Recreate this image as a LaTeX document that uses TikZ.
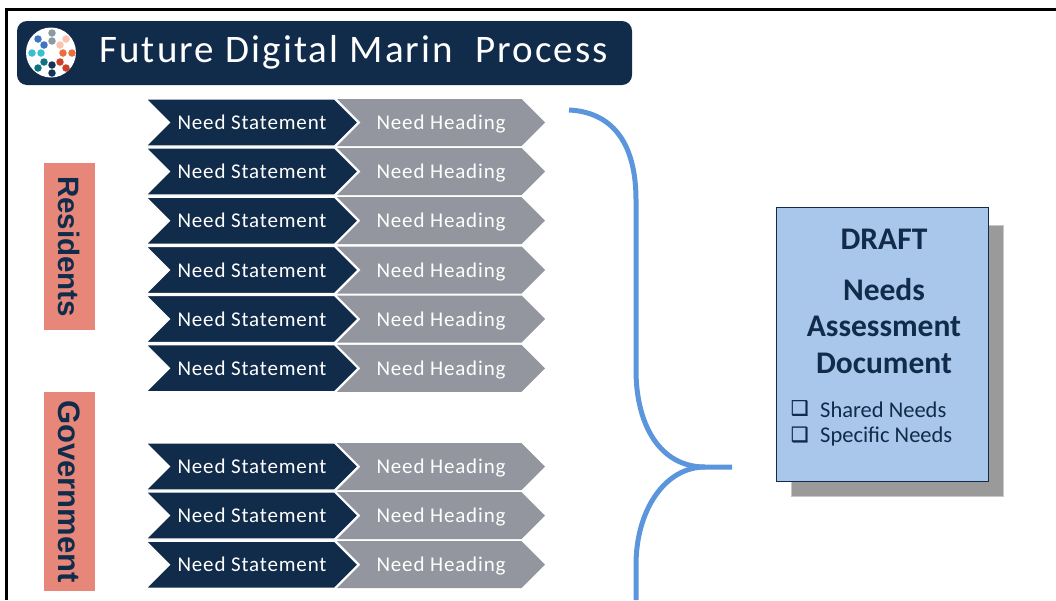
\documentclass[tikz,border=0pt]{standalone}
\usepackage{fontspec}
\setmainfont{Carlito}
\newfontfamily\chevfont[LetterSpace=4]{Carlito}
\newfontfamily\titlefont[LetterSpace=5.5]{Carlito}
\newfontfamily\tabfont{Liberation Sans}
\newfontfamily\boxfont[FakeBold=1.5]{DejaVu Sans}
\usetikzlibrary{shapes.symbols}
\definecolor{navy}{HTML}{112B4A}
\definecolor{slate}{HTML}{94969F}
\definecolor{salmon}{HTML}{E6877A}
\definecolor{bracket}{HTML}{5B96DC}
\definecolor{docblue}{HTML}{A9C7EB}
\definecolor{docshadow}{HTML}{9A9A9A}
\tikzset{
    chevron/.style={signal,signal from=west,signal to=east,signal pointer angle=90,
        minimum height=47,inner sep=0pt,text=white,text height=19,text depth=5,
        font=\chevfont\fontsize{21}{24}\selectfont},
    stmt/.style={chevron,fill=navy,draw=white,line width=1.2pt,minimum width=212},
    head/.style={chevron,fill=slate,minimum width=208},
    tab/.style={fill=salmon,text=navy,rotate=-90,minimum height=51,inner sep=0pt,
        font=\tabfont\bfseries\fontsize{31}{34}\selectfont},
    doctext/.style={text=navy,font=\fontsize{31.5}{34}\selectfont\bfseries},
    item/.style={text=navy,anchor=west,inner sep=0pt,font=\fontsize{22.5}{25}\selectfont},
    tick/.style={text=navy,anchor=west,inner sep=0pt,font=\boxfont\fontsize{20}{22}\selectfont},
    dot/.style={circle,inner sep=0pt,minimum size=7.5}
}
\begin{document}
\begin{tikzpicture}[x=1pt,y=-1pt]
    \useasboundingbox (0,0) rectangle (1056,600);
    \draw[line width=3pt] (6.5,600) -- (6.5,9.5) -- (1056,9.5);
    % title bar
    \node[fill=navy,rounded corners=10,minimum width=615,minimum height=64,inner sep=0pt] (title) at (324.5,53) {};
    \node[text=white,anchor=base west,inner sep=0pt,font=\titlefont\fontsize{39}{44}\selectfont] (titletext) at (99,62) {Future Digital Marin\ \ Process};
    \node[circle,fill=white,minimum size=50,inner sep=0pt] (logo) at (51,52.5) {};
    \foreach \px/\py/\c in {52/33/8A9BA3,52/41/8A9BA3,66/39/F9C3B0,60/45/F9C3B0,72/53/EE6C3F,63/53/EE6C3F,
        60/62/CF3F27,66/68/CF3F27,52/65/15335A,52/73/15335A,44/62/0F7480,38/68/0F7480,
        32/53/37BFD2,41/53/37BFD2,38/39/3F73C4,44/45/3F73C4} {
        \definecolor{dotcol}{HTML}{\c}
        \node[dot,fill=dotcol] at (\px,\py) {};
    }
    % rows
    \foreach \y [count=\i] in {122.5,171.5,220.7,270,319,368.3,466.5,515.5,564.7} {
        \node[head] (head\i) at (441,\y) {Need Heading};
        \node[stmt] (stmt\i) at (252,\y) {Need Statement};
    }
    \node[tab,minimum width=167,font=\tabfont\bfseries\fontsize{29.5}{32}\selectfont] (residents) at (69.5,246.5) {Residents};
    \node[tab,minimum width=199] (government) at (69.5,491.5) {Government};
    % bracket
    \coordinate (bracetop) at (569,110);
    \coordinate (bracetip) at (732,467);
    \coordinate (bracebot) at (636,600);
    \draw[bracket,line width=5pt]
        (bracetop) .. controls (610,112) and (636,140) .. (636,200)
        -- (636,370) .. controls (636,425) and (660,467) .. (705,467) -- (bracetip);
    \draw[bracket,line width=5pt]
        (705,467) .. controls (665,467) and (636,510) .. (636,565) -- (bracebot);
    % document
    \node[fill=docshadow,draw=docshadow!55,line width=1.5pt,minimum width=212,minimum height=271,inner sep=0pt] (docshade) at (897.5,361) {};
    \node[fill=docblue,draw=navy,line width=0.8pt,minimum width=212,minimum height=274,inner sep=0pt] (doc) at (882,344) {};
    \node[doctext] (draft) at (884,239) {DRAFT};
    \node[doctext] (needs) at (884,289.5) {Needs};
    \node[doctext] (assess) at (884,326.5) {Assessment};
    \node[doctext] (docu) at (884,363.5) {Document};
    \node[tick] (boxa) at (790.5,408) {❑};
    \node[tick] (boxb) at (790.5,434.5) {❑};
    \node[item] (shared) at (820,410) {Shared Needs};
    \node[item] (specific) at (820,436.5) {Specific Needs};
\end{tikzpicture}
\end{document}
